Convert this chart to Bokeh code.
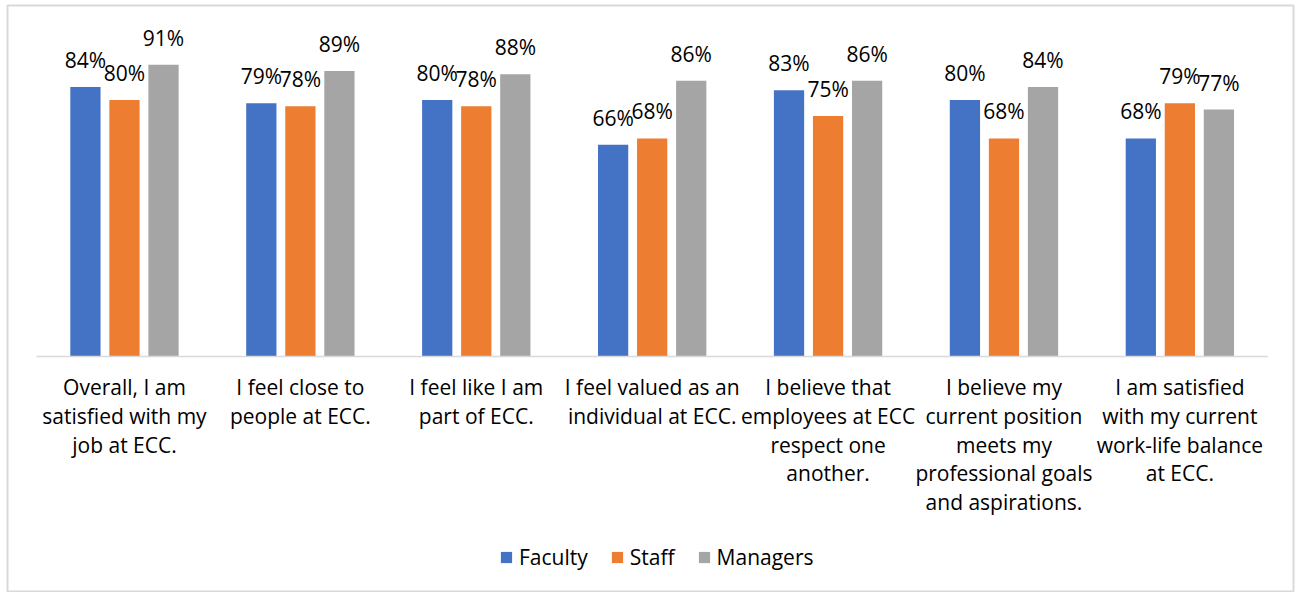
from bokeh.plotting import figure
from bokeh.models import ColumnDataSource, Range1d, Legend, LegendItem
from bokeh.transform import dodge
from bokeh.embed import file_html
from bokeh.resources import INLINE
from bokeh.core.properties import value

categories = [
    "Overall, I am\nsatisfied with my\njob at ECC.",
    "I feel close to\npeople at ECC.",
    "I feel like I am\npart of ECC.",
    "I feel valued as an\nindividual at ECC.",
    "I believe that\nemployees at ECC\nrespect one\nanother.",
    "I believe my\ncurrent position\nmeets my\nprofessional goals\nand aspirations.",
    "I am satisfied\nwith my current\nwork-life balance\nat ECC.",
]
series = ["Faculty", "Staff", "Managers"]
faculty = [84, 79, 80, 66, 83, 80, 68]
staff = [80, 78, 78, 68, 75, 68, 79]
managers = [91, 89, 88, 86, 86, 84, 77]

colors = ["#4472C4", "#ED7D31", "#A5A5A5"]
offsets = [-0.222, 0.0, 0.222]
bar_w = 0.172
FONT = "Open Sans"

n = len(categories)
centers = [i + 0.5 for i in range(n)]
src = ColumnDataSource(dict(
    x=centers, cat=categories,
    Faculty=faculty, Staff=staff, Managers=managers,
    Faculty_l=[f"{v}%" for v in faculty],
    Staff_l=[f"{v}%" for v in staff],
    Managers_l=[f"{v}%" for v in managers],
    zero=[0] * n,
))

p = figure(width=1295, height=592, x_range=Range1d(-0.165, 7.146),
           y_range=Range1d(-73.6, 109.45),
           min_border_left=7, min_border_top=5, min_border_right=2,
           min_border_bottom=0,
           toolbar_location=None, output_backend="svg")
p.axis.visible = False
p.grid.visible = False
p.outline_line_color = "#D9D9D9"
p.outline_line_width = 2
p.background_fill_color = "white"
p.border_fill_color = "white"

renderers = []
for name, col, off in zip(series, colors, offsets):
    r = p.vbar(x=dodge("x", off, range=p.x_range), top=name, width=bar_w,
               bottom=0, source=src, fill_color=col, line_color=None)
    renderers.append(r)
    p.text(x=dodge("x", off, range=p.x_range), y=name, text=name + "_l",
           source=src, text_align="center", text_baseline="alphabetic",
           y_offset=-27, text_font=value(FONT), text_font_size="21px",
           text_color="#000000")

p.segment(x0=0, y0=0, x1=n, y1=0, line_color="#D9D9D9", line_width=1.5)

p.text(x="x", y="zero", text="cat", source=src, text_align="center",
       text_baseline="top", y_offset=17, text_line_height=1.02,
       text_font=value(FONT), text_font_size="21px", text_color="#000000")

legend = Legend(items=[LegendItem(label=s, renderers=[r]) for s, r in zip(series, renderers)],
                orientation="horizontal", location=(492, 21),
                glyph_width=14, glyph_height=14, label_standoff=6, spacing=22,
                padding=0, margin=0, border_line_color=None,
                background_fill_alpha=0, label_height=28,
                label_text_font=FONT, label_text_font_size="21px",
                label_text_color="#000000")
p.add_layout(legend)

open("out.html", "w").write(file_html(p, INLINE))
